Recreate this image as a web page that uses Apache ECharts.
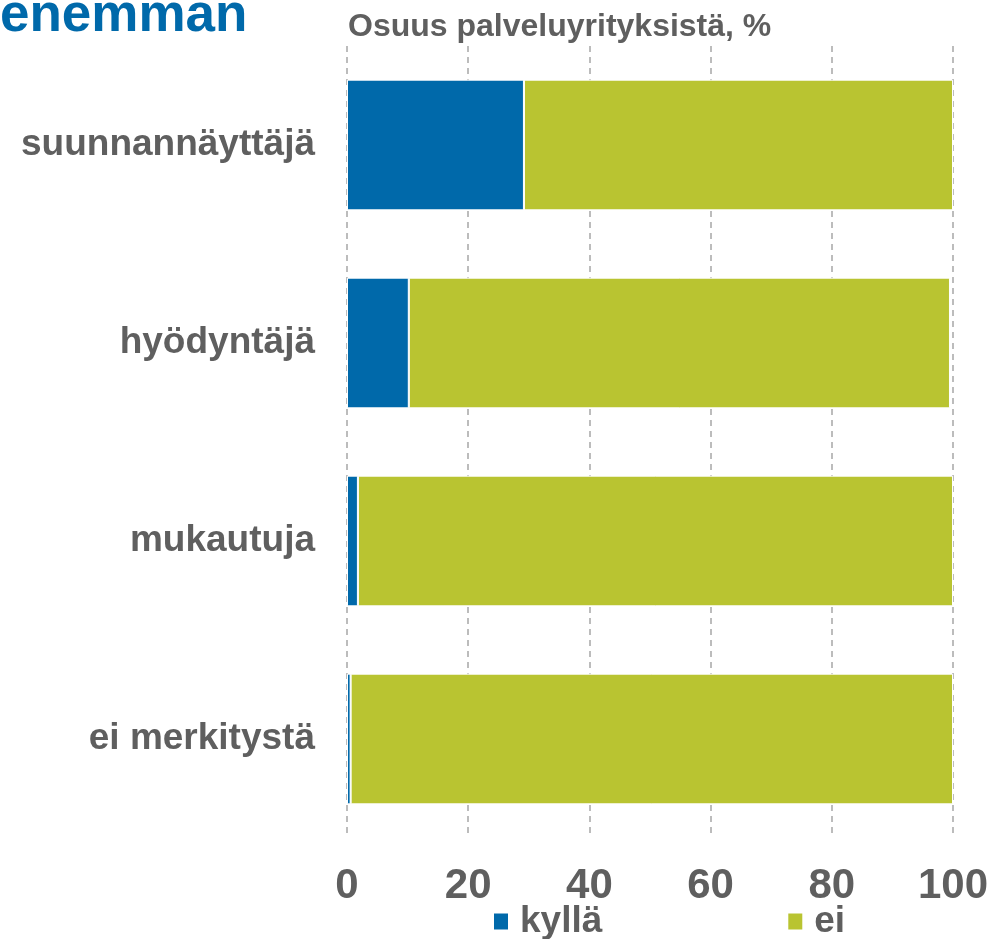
<!DOCTYPE html>
<html>
<head>
<meta charset="utf-8">
<script src="https://cdn.jsdelivr.net/npm/echarts@6/dist/echarts.min.js"></script>
<style>
  html, body { margin: 0; padding: 0; background: #fff; }
  #chart { width: 1008px; height: 939px; }
</style>
</head>
<body>
<div id="chart"></div>
<script>
const categories = ["suunnannäyttäjä", "hyödyntäjä", "mukautuja", "ei merkitystä"];
const kyllaValues = [29.2, 10.2, 1.8, 0.6];
const eiValues = [70.8, 89.3, 98.2, 99.4];
const seriesNames = ["kyllä", "ei"];

const textGray = "#5f5f5f";
const blue = "#0069aa";
const green = "#b9c431";
const font = "'Liberation Sans', Arial, sans-serif";

const chart = echarts.init(document.getElementById("chart"));

chart.setOption({
  backgroundColor: "#ffffff",
  animation: false,
  textStyle: { fontFamily: font },
  graphic: [
    {
      type: "text",
      left: 0,
      top: -10,
      style: { text: "enemman", fill: blue, font: "bold 53px " + font },
    },
    {
      type: "text",
      left: 348,
      top: 11,
      style: { text: "Osuus palveluyrityksistä, %", fill: textGray, font: "bold 32px " + font },
    },
  ],
  legend: {
    data: seriesNames,
    left: 487,
    top: 898,
    icon: "rect",
    itemWidth: 16,
    itemHeight: 18,
    itemGap: 184,
    textStyle: {
      color: textGray,
      fontSize: 37,
      fontWeight: "bold",
      fontFamily: font,
      padding: [0, 0, 0, 6],
    },
  },
  grid: { left: 347, right: 55, top: 46, bottom: 101, containLabel: false },
  xAxis: {
    type: "value",
    min: 0,
    max: 100,
    interval: 20,
    axisLine: { show: false },
    axisTick: { show: false },
    axisLabel: {
      color: textGray,
      fontSize: 42,
      fontWeight: "bold",
      fontFamily: font,
      margin: 27,
    },
    splitLine: {
      show: true,
      lineStyle: { color: "#a6a6a6", width: 1.5, type: [6, 5] },
    },
  },
  yAxis: {
    type: "category",
    data: categories,
    inverse: true,
    axisLine: { show: false },
    axisTick: { show: false },
    axisLabel: {
      color: textGray,
      fontSize: 37,
      fontWeight: "bold",
      fontFamily: font,
      margin: 32,
    },
  },
  series: [
    {
      name: seriesNames[0],
      type: "bar",
      stack: "total",
      barCategoryGap: "34%",
      itemStyle: { color: blue, borderColor: "#ffffff", borderWidth: 1 },
      data: kyllaValues,
    },
    {
      name: seriesNames[1],
      type: "bar",
      stack: "total",
      barCategoryGap: "34%",
      itemStyle: { color: green, borderColor: "#ffffff", borderWidth: 1 },
      data: eiValues,
    },
  ],
});
</script>
</body>
</html>
